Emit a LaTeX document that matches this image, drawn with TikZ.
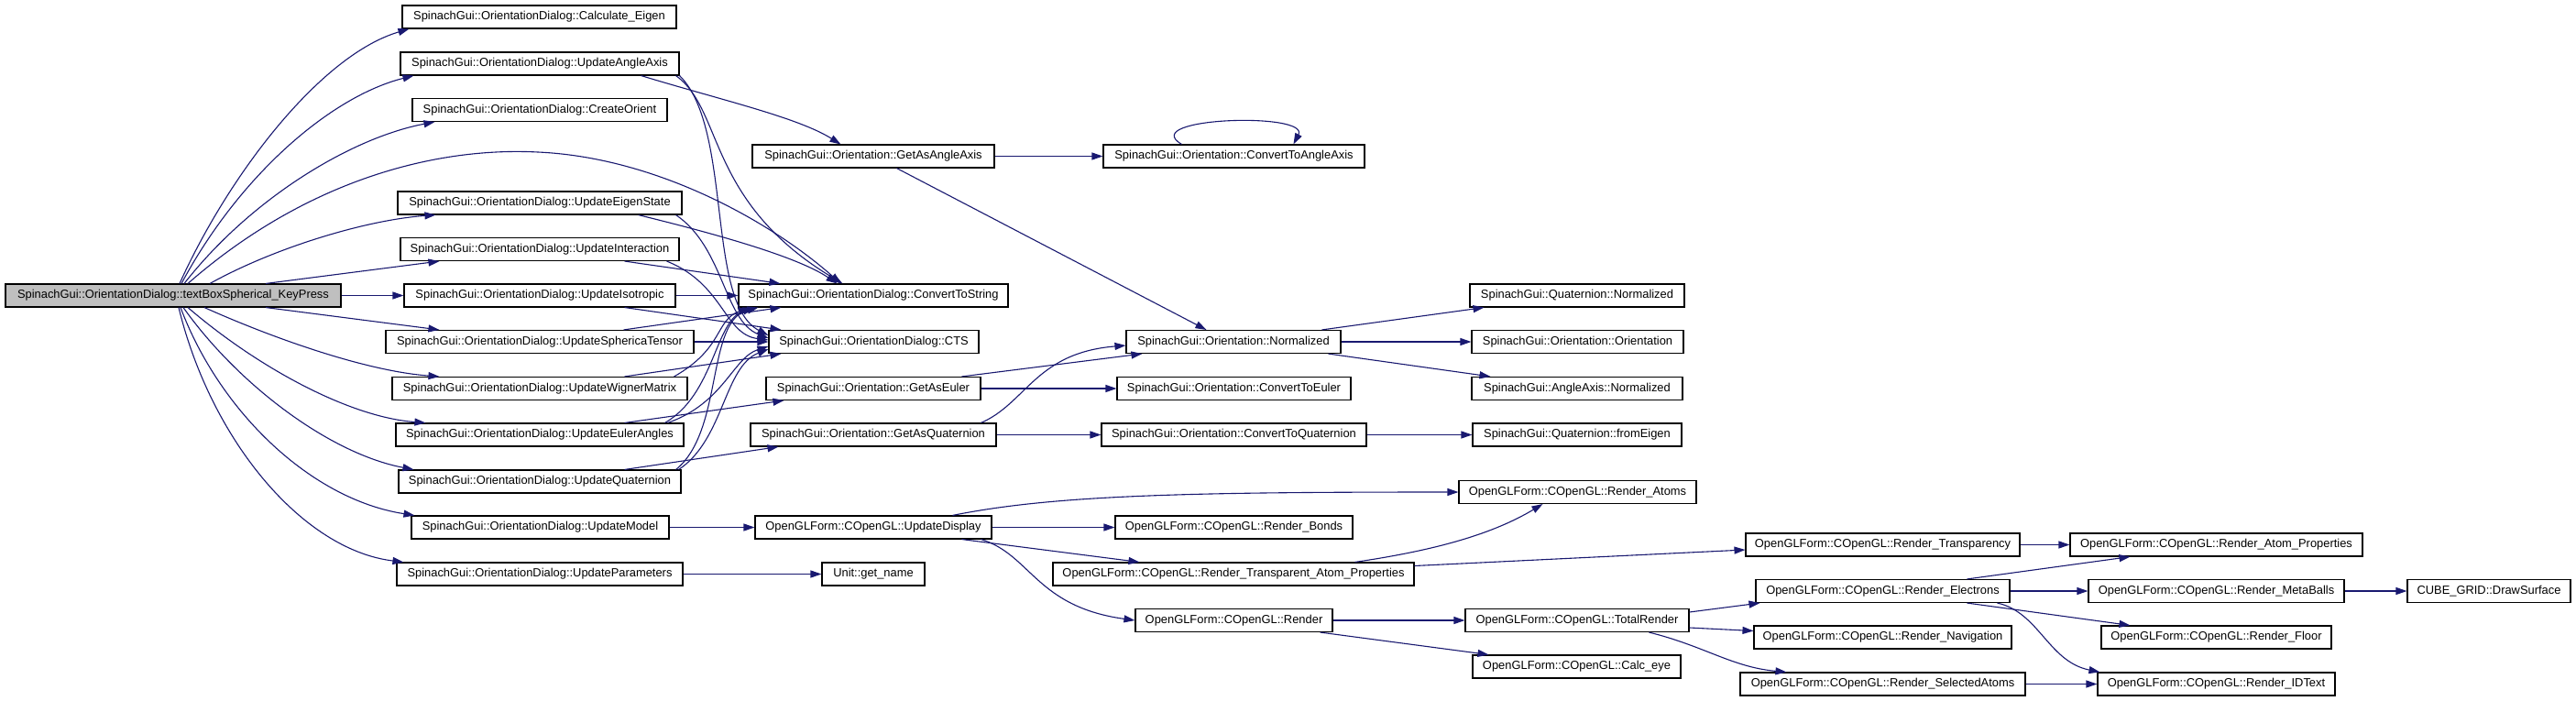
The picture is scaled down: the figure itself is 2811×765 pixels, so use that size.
\documentclass[tikz,border=0pt]{standalone}
\usepackage{fontspec}
\setmainfont{Liberation Sans}
\usetikzlibrary{arrows.meta,calc}
\definecolor{edgec}{HTML}{191970}
\definecolor{nodefill}{HTML}{BFBFBF}
\begin{document}
\begin{tikzpicture}[x=1pt,y=-1pt,
  box/.style={draw=black, line width=1.1pt, fill=white, minimum height=25pt, inner xsep=2pt, inner ysep=0pt,
    font=\fontsize{12.9}{15}\selectfont, anchor=center},
  edg/.style={draw=edgec, line width=1.1pt, -{Triangle[length=12pt,width=8pt]}}]
\useasboundingbox (0,0) rectangle (2811,765);
% column 0
\node[box, fill=nodefill, minimum width=366pt] (tb) at (189,322.5) {SpinachGui::OrientationDialog::textBoxSpherical\_KeyPress};
% column 1
\node[box, minimum width=299pt] (ce) at (588.5,18.5) {SpinachGui::OrientationDialog::Calculate\_Eigen};
\node[box, minimum width=304pt] (uaa) at (589,69.5) {SpinachGui::OrientationDialog::UpdateAngleAxis};
\node[box, minimum width=278pt] (co) at (589,120) {SpinachGui::OrientationDialog::CreateOrient};
\node[box, minimum width=310pt] (ues) at (589,221.5) {SpinachGui::OrientationDialog::UpdateEigenState};
\node[box, minimum width=304pt] (ui) at (589,272) {SpinachGui::OrientationDialog::UpdateInteraction};
\node[box, minimum width=296pt] (uiso) at (589,322.5) {SpinachGui::OrientationDialog::UpdateIsotropic};
\node[box, minimum width=336pt] (ust) at (589,373) {SpinachGui::OrientationDialog::UpdateSphericaTensor};
\node[box, minimum width=322pt] (uwm) at (589,424) {SpinachGui::OrientationDialog::UpdateWignerMatrix};
\node[box, minimum width=314pt] (uea) at (589,474.5) {SpinachGui::OrientationDialog::UpdateEulerAngles};
\node[box, minimum width=308pt] (uq) at (589,525.5) {SpinachGui::OrientationDialog::UpdateQuaternion};
\node[box, minimum width=281pt] (um) at (589.5,575.5) {SpinachGui::OrientationDialog::UpdateModel};
\node[box, minimum width=312pt] (up) at (589,626.5) {SpinachGui::OrientationDialog::UpdateParameters};
% column 2
\node[box, minimum width=264pt] (gaa) at (953,170.5) {SpinachGui::Orientation::GetAsAngleAxis};
\node[box, minimum width=294pt] (cs) at (953,322.5) {SpinachGui::OrientationDialog::ConvertToString};
\node[box, minimum width=229pt] (cts) at (953.5,373) {SpinachGui::OrientationDialog::CTS};
\node[box, minimum width=234pt] (gae) at (953,424) {SpinachGui::Orientation::GetAsEuler};
\node[box, minimum width=268pt] (gaq) at (953,474.5) {SpinachGui::Orientation::GetAsQuaternion};
\node[box, minimum width=258pt] (ud) at (953,575.5) {OpenGLForm::COpenGL::UpdateDisplay};
\node[box, minimum width=112pt] (gn) at (953,626.5) {Unit::get\_name};
% column 3
\node[box, minimum width=285pt] (ctaa) at (1346.5,170.5) {SpinachGui::Orientation::ConvertToAngleAxis};
\node[box, minimum width=234pt] (on) at (1346,373) {SpinachGui::Orientation::Normalized};
\node[box, minimum width=255pt] (cte) at (1346.5,424) {SpinachGui::Orientation::ConvertToEuler};
\node[box, minimum width=289pt] (ctq) at (1346.5,474.5) {SpinachGui::Orientation::ConvertToQuaternion};
\node[box, minimum width=259pt] (rb) at (1346.5,575.5) {OpenGLForm::COpenGL::Render\_Bonds};
\node[box, minimum width=394pt] (rtap) at (1346,626.5) {OpenGLForm::COpenGL::Render\_Transparent\_Atom\_Properties};
\node[box, minimum width=215pt] (rend) at (1346.5,677) {OpenGLForm::COpenGL::Render};
% column 4
\node[box, minimum width=234pt] (qn) at (1721,322.5) {SpinachGui::Quaternion::Normalized};
\node[box, minimum width=231pt] (oo) at (1721.5,373) {SpinachGui::Orientation::Orientation};
\node[box, minimum width=230pt] (aan) at (1721,424) {SpinachGui::AngleAxis::Normalized};
\node[box, minimum width=228pt] (qfe) at (1721,474.5) {SpinachGui::Quaternion::fromEigen};
\node[box, minimum width=259pt] (ra) at (1721.5,537) {OpenGLForm::COpenGL::Render\_Atoms};
\node[box, minimum width=244pt] (tr) at (1721,677) {OpenGLForm::COpenGL::TotalRender};
\node[box, minimum width=227pt] (calc) at (1720.5,727.5) {OpenGLForm::COpenGL::Calc\_eye};
% column 5
\node[box, minimum width=299pt] (rt) at (2054.5,594.5) {OpenGLForm::COpenGL::Render\_Transparency};
\node[box, minimum width=277pt] (re) at (2054.5,645) {OpenGLForm::COpenGL::Render\_Electrons};
\node[box, minimum width=281pt] (rn) at (2054.5,695.5) {OpenGLForm::COpenGL::Render\_Navigation};
\node[box, minimum width=311pt] (rsa) at (2054.5,746.5) {OpenGLForm::COpenGL::Render\_SelectedAtoms};
% column 6
\node[box, minimum width=319pt] (rap) at (2418.5,594.5) {OpenGLForm::COpenGL::Render\_Atom\_Properties};
\node[box, minimum width=279pt] (rmb) at (2418.5,645) {OpenGLForm::COpenGL::Render\_MetaBalls};
\node[box, minimum width=251pt] (rf) at (2418.5,695.5) {OpenGLForm::COpenGL::Render\_Floor};
\node[box, minimum width=259pt] (rid) at (2418.5,746.5) {OpenGLForm::COpenGL::Render\_IDText};
% column 7
\node[box, minimum width=178pt] (ds) at (2716,645) {CUBE\_GRID::DrawSurface};

% ---- edges from tb
\draw[edg] ($(tb.north)+(7,0)$) .. controls (250,190) and (350,60) .. ($(ce.south west)+(8,0)$);
\draw[edg] ($(tb.north)+(9,0)$) .. controls (262,190) and (362,105) .. ($(uaa.south west)+(15,0)$);
\draw[edg] ($(tb.north)+(12,0)$) .. controls (275,215) and (385,150) .. ($(co.south west)+(25,0)$);
\draw[edg] ($(tb.north)+(16,0)$) .. controls (330,200) and (470,160) .. (587,166) .. controls (720,172) and (845,245) .. ($(cs.north west)+(112,0)$);
\draw[edg] ($(tb.north)+(40,0)$) .. controls (300,270) and (400,240) .. ($(ues.south west)+(42,0)$);
\draw[edg] ($(tb.north)+(101,0)$) -- ($(ui.south west)+(43,0)$);
\draw[edg] (tb.east) -- (uiso.west);
\draw[edg] ($(tb.south)+(101,0)$) -- ($(ust.north west)+(59,0)$);
\draw[edg] ($(tb.south)+(34,0)$) .. controls (300,370) and (400,405) .. ($(uwm.north west)+(52,0)$);
\draw[edg] ($(tb.south)+(16,0)$) .. controls (280,400) and (380,455) .. ($(uea.north west)+(33,0)$);
\draw[edg] ($(tb.south)+(11,0)$) .. controls (260,420) and (360,495) .. ($(uq.north west)+(17,0)$);
\draw[edg] ($(tb.south)+(8,0)$) .. controls (240,450) and (340,545) .. ($(um.north west)+(4,0)$);
\draw[edg] ($(tb.south)+(6,0)$) .. controls (230,480) and (330,600) .. ($(up.north west)+(8,0)$);

% ---- column 1 -> column 2
\draw[edg] ($(uaa.south east)+(-42,0)$) .. controls (790,110) and (870,128) .. ($(gaa.north west)+(97,0)$);
\draw[edg] ($(uaa.south east)+(-4,0)$) .. controls (790,120) and (770,220) .. ($(cs.north west)+(114,0)$);
\draw[edg] (uaa.south east) .. controls (800,140) and (770,330) .. ($(cts.west)+(0,-7)$);
\draw[edg] ($(ues.south east)+(-48,0)$) .. controls (780,255) and (870,280) .. ($(cs.north west)+(108,0)$);
\draw[edg] ($(ues.south east)+(-7,0)$) .. controls (790,270) and (790,350) .. ($(cts.west)+(0,-4)$);
\draw[edg] ($(ui.south east)+(-60,0)$) -- ($(cs.north west)+(46,0)$);
\draw[edg] ($(ui.south east)+(-14,0)$) .. controls (790,310) and (790,365) .. ($(cts.west)+(0,-2)$);
\draw[edg] (uiso.east) -- (cs.west);
\draw[edg] ($(uiso.south east)+(-56,0)$) -- ($(cts.north west)+(14,0)$);
\draw[edg] ($(ust.north east)+(-77,0)$) -- ($(cs.south west)+(47,0)$);
\draw[edg] (ust.east) -- (cts.west);
\draw[edg] ($(uwm.north east)+(-69,0)$) -- ($(cts.south west)+(14,0)$);
\draw[edg] ($(uwm.north east)+(-15,0)$) .. controls (790,380) and (780,350) .. ($(cs.south west)+(12,0)$);
\draw[edg] ($(uea.north east)+(-65,0)$) -- ($(gae.south west)+(20,0)$);
\draw[edg] ($(uea.north east)+(-21,0)$) .. controls (780,430) and (780,350) .. ($(cs.south west)+(17,0)$);
\draw[edg] ($(uea.north east)+(-18,0)$) .. controls (790,440) and (800,390) .. ($(cts.west)+(0,5)$);
\draw[edg] ($(uq.north east)+(-62,0)$) -- ($(gaq.south west)+(31,0)$);
\draw[edg] ($(uq.north east)+(-6,0)$) .. controls (790,470) and (770,350) .. ($(cs.south west)+(22,0)$);
\draw[edg] ($(uq.north east)+(-3,0)$) .. controls (790,480) and (790,400) .. ($(cts.west)+(0,8)$);
\draw[edg] (um.east) -- (ud.west);
\draw[edg] (up.east) -- (gn.west);

% ---- column 2 -> column 3
\draw[edg] (gaa.east) -- (ctaa.west);
\draw[edg] ($(gaa.south west)+(158,0)$) -- ($(on.north west)+(88,0)$);
\draw[edg] ($(ctaa.north west)+(86,0)$) .. controls (1240,128) and (1430,122) .. ($(ctaa.north west)+(208,0)$);
\draw[edg] (gae.east) -- (cte.west);
\draw[edg] ($(gae.north west)+(214,0)$) -- ($(on.south west)+(18,0)$);
\draw[edg] (gaq.east) -- (ctq.west);
\draw[edg] ($(gaq.north west)+(252,0)$) .. controls (1120,440) and (1130,385) .. ($(on.west)+(0,4)$);
\draw[edg] (ud.east) -- (rb.west);
\draw[edg] ($(ud.south west)+(226,0)$) -- ($(rtap.north west)+(95,0)$);
\draw[edg] ($(ud.south west)+(247,0)$) .. controls (1125,605) and (1130,662) .. (rend.west);
\draw[edg] ($(ud.north west)+(216,0)$) .. controls (1150,540) and (1300,537) .. (ra.west);

% ---- column 3 -> column 4
\draw[edg] ($(on.north west)+(214,0)$) -- ($(qn.south west)+(16,0)$);
\draw[edg] (on.east) -- (oo.west);
\draw[edg] ($(on.south west)+(221,0)$) -- ($(aan.north west)+(21,0)$);
\draw[edg] (ctq.east) -- (qfe.west);
\draw[edg] ($(rtap.north west)+(330,0)$) .. controls (1570,600) and (1630,582) .. ($(ra.south west)+(92,0)$);
\draw[edg] ($(rtap.east)+(0,-9)$) -- ($(rt.west)+(0,5.5)$);
\draw[edg] (rend.east) -- (tr.west);
\draw[edg] ($(rend.south east)+(-14,0)$) -- ($(calc.north west)+(18,0)$);

% ---- column 4 -> column 5
\draw[edg] ($(tr.east)+(0,-9)$) -- ($(re.south west)+(5,0)$);
\draw[edg] ($(tr.east)+(0,8)$) -- ($(rn.west)+(0,-7)$);
\draw[edg] ($(tr.south west)+(201,0)$) .. controls (1860,705) and (1890,728) .. ($(rsa.north west)+(51,0)$);

% ---- column 5 -> column 6
\draw[edg] (rt.east) -- (rap.west);
\draw[edg] ($(re.north west)+(231,0)$) -- ($(rap.south west)+(66,0)$);
\draw[edg] (re.east) -- (rmb.west);
\draw[edg] ($(re.south west)+(231,0)$) -- ($(rf.north west)+(32,0)$);
\draw[edg] ($(re.south west)+(264,0)$) .. controls (2225,668) and (2235,722) .. ($(rid.north west)+(3,0)$);
\draw[edg] (rsa.east) -- (rid.west);

% ---- column 6 -> column 7
\draw[edg] (rmb.east) -- (ds.west);
\end{tikzpicture}
\end{document}
